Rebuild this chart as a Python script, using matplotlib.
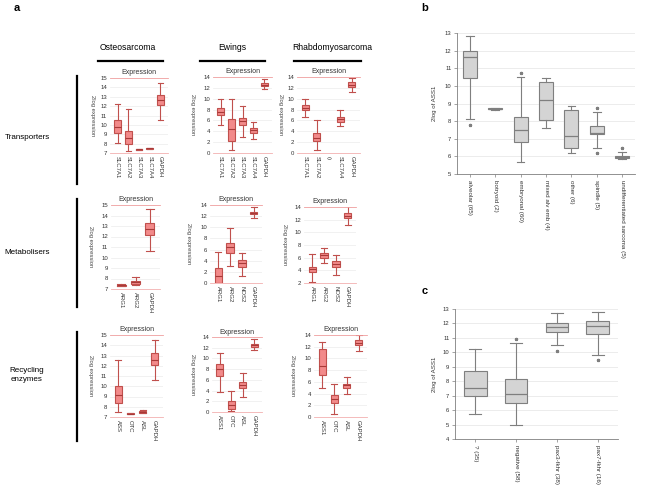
#!/usr/bin/env python3
"""
ASS1 / amino acid pathway expression in sarcoma subtypes
Panel a: gene boxplots per tumour type, panels b and c: ASS1 by subtype
"""

import matplotlib
matplotlib.use('Agg')
import matplotlib.pyplot as plt

plt.rcParams['font.family'] = ['Liberation Sans', 'DejaVu Sans']

W, H = 650, 488

# ---- panel a data: [whislo, q1, med, q3, whishi] ----
trans_genes_os = ['SLC7A1', 'SLC7A2', 'SLC7A3', 'SLC7A4', 'GAPDH']
trans_os = [[8.1, 9.1, 9.75, 10.5, 12.2],
            [7.2, 7.95, 8.65, 9.4, 11.65],
            [7.3, 7.33, 7.38, 7.43, 7.46],
            [7.4, 7.44, 7.5, 7.55, 7.58],
            [10.5, 12.1, 12.65, 13.2, 14.5]]
trans_genes_ew = ['SLC7A1', 'SLC7A2', 'SLC7A3', 'SLC7A4', 'GAPDH']
trans_ew = [[5.1, 6.95, 7.55, 8.2, 10.0],
            [0.6, 2.15, 4.5, 6.2, 9.95],
            [2.95, 5.1, 5.9, 6.5, 8.6],
            [2.65, 3.75, 4.15, 4.65, 5.7],
            [11.7, 12.3, 12.6, 12.9, 13.7]]
trans_genes_rh = ['SLC7A1', 'SLC7A2', '()', 'SLC7A4', 'GAPDH']
trans_rh = [[6.6, 7.85, 8.35, 8.8, 10.0],
            [0.6, 2.2, 2.8, 3.75, 6.1],
            None,
            [4.9, 5.8, 6.3, 6.6, 8.0],
            [11.3, 12.2, 12.6, 13.1, 13.9]]

metab_genes_os = ['ARG1', 'ARG2', 'GAPDH']
metab_os = [[7.28, 7.3, 7.35, 7.4, 7.44],
            [7.4, 7.5, 7.62, 7.78, 8.15],
            [10.6, 12.15, 12.7, 13.3, 14.6]]
metab_genes_ew = ['ARG1', 'ARG2', 'NOS2', 'GAPDH']
metab_ew = [[0.0, 0.05, 1.2, 2.7, 5.6],
            [3.0, 5.4, 6.5, 7.2, 9.8],
            [1.2, 2.8, 3.55, 4.1, 5.3],
            [11.6, 12.3, 12.55, 12.8, 13.6]]
metab_genes_rh = ['ARG1', 'ARG2', 'NOS2', 'GAPDH']
metab_rh = [[2.15, 3.7, 4.2, 4.6, 6.5],
            [5.2, 6.0, 6.4, 6.7, 7.5],
            [3.2, 4.5, 5.05, 5.4, 6.4],
            [11.2, 12.2, 12.6, 13.05, 14.1]]

recyc_genes_os = ['ASS', 'OTC', 'ASL', 'GAPDH']
recyc_os = [[7.45, 8.4, 9.15, 10.0, 12.6],
            [7.28, 7.3, 7.33, 7.36, 7.38],
            [7.35, 7.43, 7.52, 7.62, 7.72],
            [10.6, 12.1, 12.6, 13.2, 14.5]]
recyc_genes_ew = ['ASS1', 'OTC', 'ASL', 'GAPDH']
recyc_ew = [[3.75, 6.8, 8.05, 8.9, 10.95],
            [0.1, 0.6, 1.25, 2.0, 4.0],
            [2.75, 4.4, 5.0, 5.6, 7.3],
            [11.5, 12.2, 12.45, 12.75, 13.6]]
recyc_genes_rh = ['ASS1', 'OTC', 'ASL', 'GAPDH']
recyc_rh = [[5.0, 7.1, 8.7, 11.6, 12.8],
            [0.5, 2.4, 3.0, 3.8, 5.7],
            [4.0, 5.0, 5.4, 5.7, 6.8],
            [11.3, 12.3, 12.7, 13.1, 14.0]]

# ---- panel b data ----
subtype_labels = ['alveolar (65)', 'botryoid (2)', 'embryonal (60)',
                  'mixed alv emb (4)', 'other (6)', 'spindle (5)',
                  'undifferentiated sarcoma (5)']
subtype_stats = [[8.1, 10.45, 11.65, 12.0, 12.85],
                 [8.65, 8.66, 8.7, 8.74, 8.75],
                 [5.7, 6.8, 7.5, 8.25, 10.5],
                 [7.6, 8.05, 9.2, 10.2, 10.45],
                 [6.2, 6.5, 7.15, 8.65, 8.85],
                 [6.5, 7.25, 7.3, 7.75, 8.5],
                 [5.85, 5.88, 5.95, 6.02, 6.25]]
subtype_fliers = [[7.78], [], [10.72], [], [], [8.75, 6.2], [6.45]]

# ---- panel c data ----
fusion_labels = ['? (35)', 'negative (58)', 'pax3-fkhr (38)', 'pax7-fkhr (16)']
fusion_stats = [[5.7, 6.95, 7.55, 8.7, 10.2],
                [4.95, 6.5, 7.1, 8.15, 10.65],
                [10.5, 11.4, 11.75, 12.0, 12.7],
                [9.8, 11.25, 11.85, 12.2, 12.8]]
fusion_fliers = [[], [10.9], [10.1], [9.45]]

RED_FILL = '#f28a8a'
RED_EDGE = '#c0504d'
GREY_FILL = '#d4d4d4'
GREY_EDGE = '#7f7f7f'

fig = plt.figure(figsize=(W / 100, H / 100), dpi=100)
fig.patch.set_facecolor('white')


def add_ax(x0, x1, ytop, ybot):
    return fig.add_axes([x0 / W, 1 - ybot / H, (x1 - x0) / W, (ybot - ytop) / H])


def make_stats(rows, fliers=None):
    out = []
    for i, r in enumerate(rows):
        lo, q1, med, q3, hi = r
        out.append(dict(whislo=lo, q1=q1, med=med, q3=q3, whishi=hi,
                        fliers=(fliers[i] if fliers else [])))
    return out


def red_panel(x0, x1, ytop, ybot, labels, rows, ylim, ticks, ylab_x):
    ax = add_ax(x0, x1, ytop, ybot)
    pos = [i + 1 for i, r in enumerate(rows) if r is not None]
    stats = make_stats([r for r in rows if r is not None])
    ax.bxp(stats, positions=pos, widths=0.62, patch_artist=True,
           showfliers=False,
           boxprops=dict(facecolor=RED_FILL, edgecolor=RED_EDGE, linewidth=0.8),
           whiskerprops=dict(color=RED_EDGE, linewidth=0.8),
           capprops=dict(color=RED_EDGE, linewidth=0.8),
           medianprops=dict(color='#a83a38', linewidth=0.8),
           capwidths=0.5)
    ax.set_xlim(0.3, len(rows) + 0.7)
    ax.set_ylim(*ylim)
    ax.set_yticks(ticks)
    ax.set_xticks(range(1, len(labels) + 1))
    ax.set_xticklabels(labels, rotation=-90, fontsize=4.6)
    ax.tick_params(axis='both', length=0, pad=2, labelsize=4.3, labelcolor='#333333')
    ax.yaxis.grid(True, color='#ececec', linewidth=0.5)
    ax.set_axisbelow(True)
    for s in ['left', 'right', 'top']:
        ax.spines[s].set_visible(False)
    ax.spines['bottom'].set_color('#f2b0b0')
    ax.spines['bottom'].set_linewidth(0.6)
    ax.axhline(ylim[1], color='#f2a0a0', linewidth=0.6, clip_on=False)
    ax.text(0.5, 1.02, 'Expression', transform=ax.transAxes, ha='center',
            va='bottom', fontsize=5, color='#333333')
    fig.text(ylab_x / W, 1 - (ytop + ybot) / 2 / H, '2log expression',
             rotation=-90, ha='center', va='center', fontsize=4.2, color='#444444')
    return ax


def grey_panel(x0, x1, ytop, ybot, labels, rows, fliers, ylim, ylab_x):
    ax = add_ax(x0, x1, ytop, ybot)
    ax.bxp(make_stats(rows, fliers), widths=0.55, patch_artist=True,
           boxprops=dict(facecolor=GREY_FILL, edgecolor=GREY_EDGE, linewidth=0.8),
           whiskerprops=dict(color=GREY_EDGE, linewidth=0.8),
           capprops=dict(color=GREY_EDGE, linewidth=0.8),
           medianprops=dict(color=GREY_EDGE, linewidth=0.9),
           flierprops=dict(marker='*', markersize=2.2, markerfacecolor=GREY_EDGE,
                           markeredgecolor=GREY_EDGE, linestyle='none'),
           capwidths=0.3)
    ax.set_xlim(0.5, len(rows) + 0.5)
    ax.set_ylim(*ylim)
    ax.set_yticks(range(ylim[0], ylim[1] + 1))
    ax.set_xticks(range(1, len(labels) + 1))
    ax.set_xticklabels(labels, rotation=-90, fontsize=4.5)
    ax.tick_params(axis='both', length=2, width=0.5, color=GREY_EDGE, pad=2,
                   labelsize=4.2, labelcolor='#333333')
    ax.tick_params(axis='x', labelsize=4.5)
    ax.yaxis.grid(True, color='#e4e4e4', linewidth=0.5)
    ax.set_axisbelow(True)
    for s in ['right', 'top']:
        ax.spines[s].set_visible(False)
    for s in ['left', 'bottom']:
        ax.spines[s].set_color(GREY_EDGE)
        ax.spines[s].set_linewidth(0.6)
    fig.text(ylab_x / W, 1 - (ytop + ybot) / 2 / H, '2log of ASS1',
             rotation=90, ha='center', va='center', fontsize=4.4, color='#333333')
    return ax


# ---- panel a ----
fig.text(17 / W, 1 - 8 / H, 'a', fontsize=8, fontweight='bold', ha='center', va='center')

col_titles = ['Osteosarcoma', 'Ewings', 'Rhabdomyosarcoma']
col_x = [128, 232, 332]
col_bars = [(98, 163), (200, 265), (294, 361)]
for t, x, (b0, b1) in zip(col_titles, col_x, col_bars):
    fig.text(x / W, 1 - 48 / H, t, fontsize=6.2, ha='center', va='center')
    fig.add_artist(plt.Line2D([b0 / W, b1 / W], [1 - 61 / H] * 2,
                              color='black', linewidth=1.6))

row_titles = ['Transporters', 'Metabolisers', 'Recycling\nenzymes']
row_y = [137, 253, 375]
row_bars = [(76, 184), (199, 307), (332, 441)]
for t, y, (b0, b1) in zip(row_titles, row_y, row_bars):
    fig.text(27 / W, 1 - y / H, t, fontsize=5.8, ha='center', va='center',
             linespacing=1.4)
    fig.add_artist(plt.Line2D([77 / W] * 2, [1 - b0 / H, 1 - b1 / H],
                              color='black', linewidth=1.6))

os_ticks = list(range(7, 16))
ew_ticks = list(range(0, 15, 2))

red_panel(110, 168, 78, 153, trans_genes_os, trans_os, (7, 15), os_ticks, 92)
red_panel(213, 272, 77, 153, trans_genes_ew, trans_ew, (0, 14), ew_ticks, 193)
red_panel(297, 360, 77, 153, trans_genes_rh, trans_rh, (0, 14), ew_ticks, 280)

red_panel(111, 160, 205, 289, metab_genes_os, metab_os, (7, 15), os_ticks, 90)
red_panel(210, 262, 205, 283, metab_genes_ew, metab_ew, (0, 14), ew_ticks, 189)
red_panel(304, 356, 207, 283, metab_genes_rh, metab_rh, (2, 14), list(range(2, 15, 2)), 285)

red_panel(110, 163, 335, 417, recyc_genes_os, recyc_os, (7, 15), os_ticks, 90)
red_panel(212, 262, 337, 412, recyc_genes_ew, recyc_ew, (0, 14), ew_ticks, 193)
red_panel(314, 367, 335, 417, recyc_genes_rh, recyc_rh, (0, 14), ew_ticks, 293)

# ---- panel b ----
fig.text(425 / W, 1 - 8 / H, 'b', fontsize=8, fontweight='bold', ha='center', va='center')
grey_panel(457, 635, 33, 174, subtype_labels, subtype_stats, subtype_fliers, (5, 13), 435)

# ---- panel c ----
fig.text(425 / W, 1 - 291 / H, 'c', fontsize=8, fontweight='bold', ha='center', va='center')
grey_panel(455, 618, 309, 439, fusion_labels, fusion_stats, fusion_fliers, (4, 13), 435)

fig.savefig('out.png', dpi=100)
